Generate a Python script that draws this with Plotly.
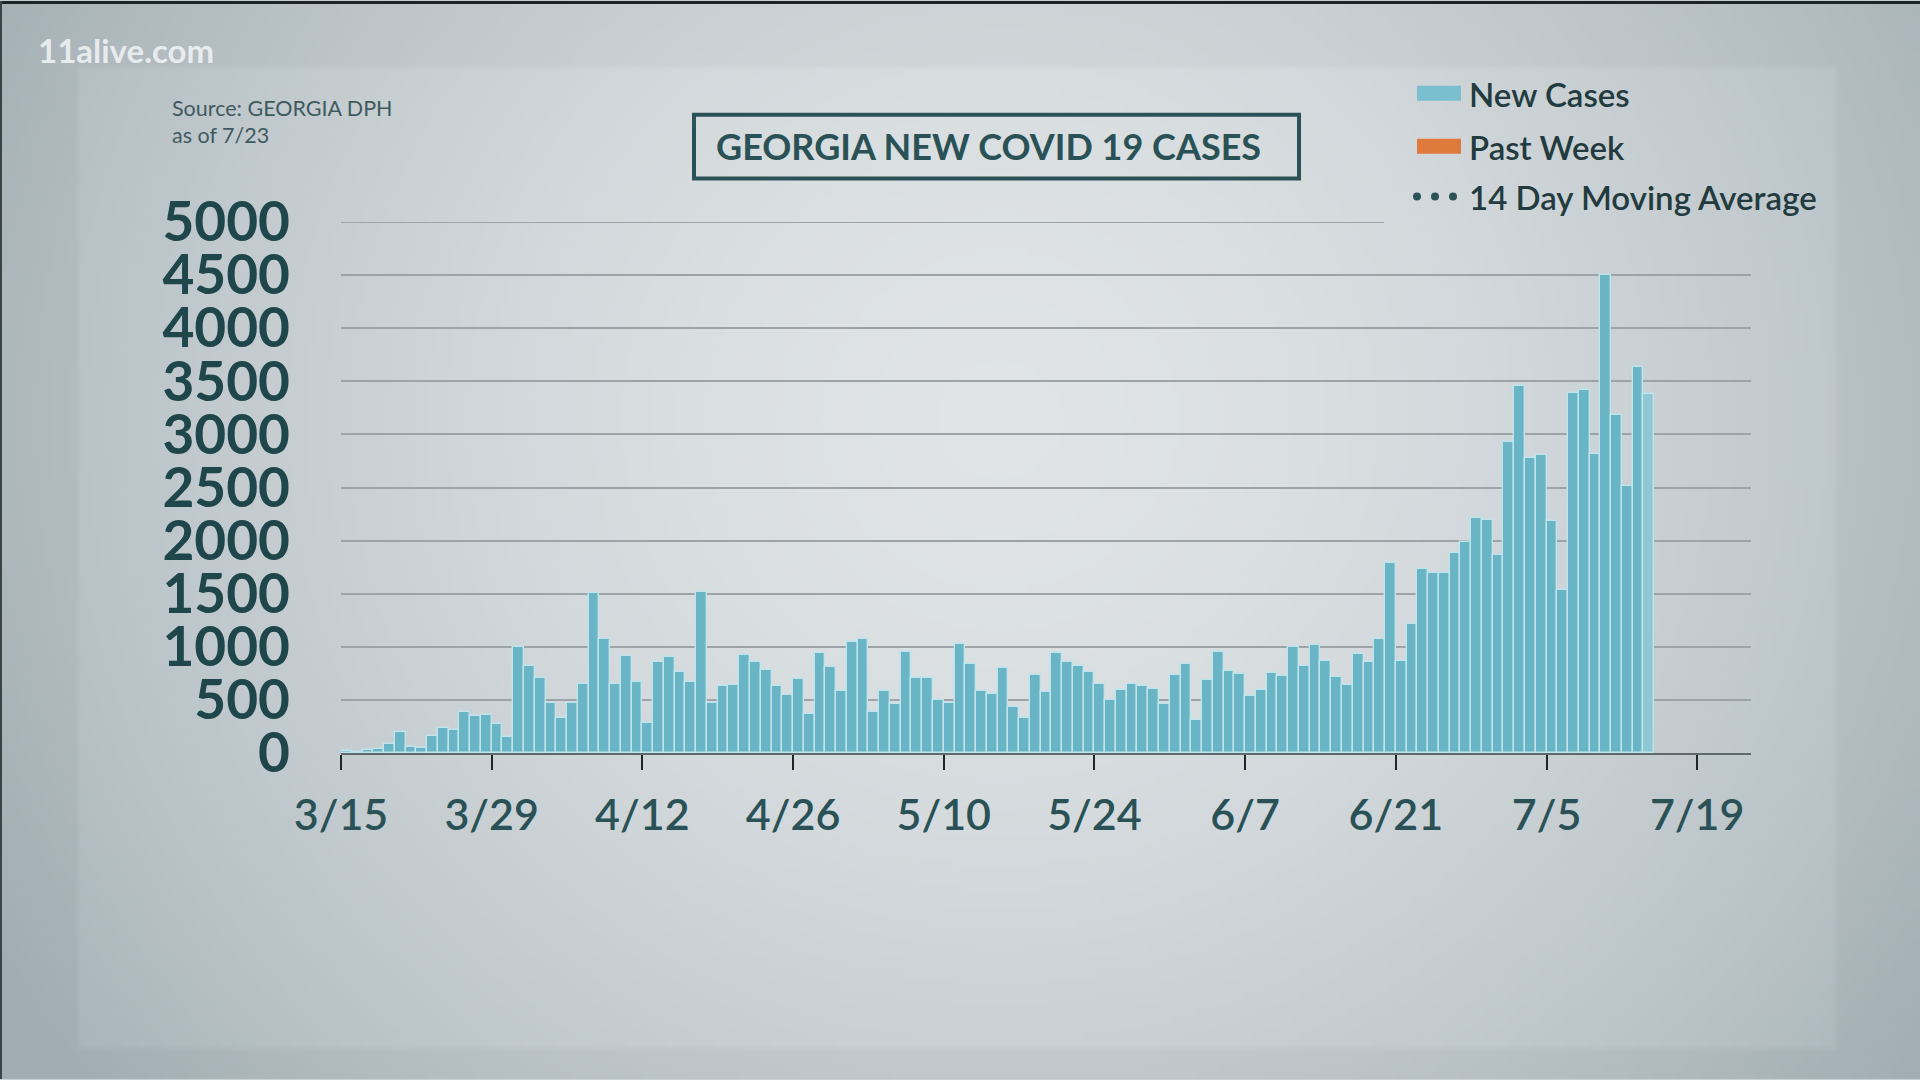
import zlib
import struct
import base64
import pandas as pd
import plotly.graph_objects as go

# ---------------- data ----------------
start_date = "2020-03-15"
new_cases = [
    22, 8, 31, 40, 85, 194, 56, 47, 157, 238, 213, 389, 351, 360,
    276, 154, 997, 821, 702, 470, 326, 470, 652, 1505, 1078, 652, 909, 665,
    285, 853, 900, 765, 671, 1520, 470, 627, 639, 922, 859, 777, 633, 542,
    699, 370, 940, 809, 580, 1047, 1072, 389, 580, 464, 953, 702, 702, 495,
    470, 1028, 840, 580, 552, 796, 433, 332, 730, 571, 940, 853, 821, 759,
    646, 498, 589, 646, 627, 602, 464, 730, 837, 307, 690, 953, 774, 743,
    533, 596, 752, 727, 997, 815, 1016, 865, 719, 644, 931, 859, 1078, 1791,
    869, 1213, 1728, 1697, 1697, 1884, 1984, 2213, 2194, 1863, 2931, 3456, 2775, 2806,
    2181, 1534, 3394, 3416, 2819, 4500, 3181, 2516, 3634, 3384,
]
tick_dates = ["2020-03-15", "2020-03-29", "2020-04-12", "2020-04-26", "2020-05-10",
              "2020-05-24", "2020-06-07", "2020-06-21", "2020-07-05", "2020-07-19"]
tick_labels = ["3/15", "3/29", "4/12", "4/26", "5/10", "5/24", "6/7", "6/21", "7/5", "7/19"]
y_ticks = list(range(0, 5001, 500))
y_max = 5000
legend_labels = ["New Cases", "Past Week", "14 Day Moving Average"]
title_text = "GEORGIA NEW COVID 19 CASES"
source_lines = ["Source: GEORGIA DPH", "as of 7/23"]
watermark = "11alive.com"

dates = pd.date_range(start_date, periods=len(new_cases), freq="D")

# ---------------- geometry helpers ----------------
W, H = 1920, 1080
ML, MR, MT, MB = 341, 169, 221.5, 326.5
PW, PH = W - ML - MR, H - MT - MB


def px_x(x):
    return (x - ML) / PW


def px_y(y):
    return (H - MB - y) / PH


# ---------------- background gradient image ----------------
def bg_rgb(x, y):
    cx, cy = 1000, 420
    dx = (x - cx) / 1150
    dy = (y - cy) / 1100
    r = (dx * dx + dy * dy) ** 0.5
    t = min(1.0, r ** 1.6)
    c0 = (224, 228, 230)
    c1 = (168, 180, 186)
    col = [c0[k] + (c1[k] - c0[k]) * t for k in range(3)]
    if not (80 <= x <= 1837 and 68 <= y <= 1050):
        col = [v - 7 for v in col]
    return tuple(int(round(max(0, min(255, v)))) for v in col)


def png_uri(w, h, scale):
    raw = bytearray()
    for j in range(h):
        raw.append(0)
        for i in range(w):
            raw += bytes(bg_rgb((i + 0.5) * scale, (j + 0.5) * scale))

    def chunk(tag, data):
        c = struct.pack(">I", len(data)) + tag + data
        return c + struct.pack(">I", zlib.crc32(tag + data) & 0xFFFFFFFF)

    png = (b"\x89PNG\r\n\x1a\n"
           + chunk(b"IHDR", struct.pack(">IIBBBBB", w, h, 8, 2, 0, 0, 0))
           + chunk(b"IDAT", zlib.compress(bytes(raw), 9))
           + chunk(b"IEND", b""))
    return "data:image/png;base64," + base64.b64encode(png).decode()


bg_src = png_uri(320, 180, 6)

# ---------------- colours / fonts ----------------
BAR = "#69b5c5"
BAR_LAST = "#8fc8d3"
DARK = "#24474b"
GRID = "#9da4a7"
FONT = "Lato"

bar_colors = [BAR] * (len(new_cases) - 1) + [BAR_LAST]

fig = go.Figure()
fig.add_trace(go.Bar(
    x=dates, y=new_cases,
    xperiod=86400000, xperiodalignment="middle",
    marker=dict(color=bar_colors, line=dict(color="#bfe4ec", width=1.4)),
    name=legend_labels[0], showlegend=False, hoverinfo="x+y",
))

fig.update_layout(
    width=W, height=H,
    margin=dict(l=ML, r=MR, t=MT, b=MB, pad=0),
    paper_bgcolor="#c9d0d3",
    plot_bgcolor="rgba(0,0,0,0)",
    bargap=0.0,
    showlegend=False,
    font=dict(family=FONT, color=DARK),
)

fig.update_xaxes(
    type="date",
    range=["2020-03-15", "2020-07-24"],
    tickvals=tick_dates, ticktext=tick_labels,
    ticks="outside", ticklen=15, tickwidth=2, tickcolor="#1d2729",
    tickfont=dict(family=FONT, size=43, color="#2a5256", weight=600),
    ticklabelstandoff=8,
    showline=True, linecolor="#5f686b", linewidth=2,
    showgrid=False, zeroline=False,
)
fig.update_yaxes(
    range=[0, y_max],
    tickvals=y_ticks, ticktext=[str(v) for v in y_ticks],
    ticks="", ticklabelstandoff=50,
    tickfont=dict(family=FONT, size=55, color="#1f464a", weight="bold"),
    showgrid=True, gridcolor=GRID, gridwidth=2,
    zeroline=False, showline=False,
)

# background image covering whole figure
fig.add_layout_image(dict(
    source=bg_src, xref="paper", yref="paper",
    x=px_x(0), y=px_y(0), sizex=W / PW, sizey=H / PH,
    xanchor="left", yanchor="top", sizing="stretch", layer="below",
))

shapes = []
# thin dark frame strips (top / left)
shapes.append(dict(type="rect", xref="paper", yref="paper",
                   x0=px_x(0), x1=px_x(W), y0=px_y(3), y1=px_y(0),
                   fillcolor="#1c2427", line=dict(width=0), layer="above"))
shapes.append(dict(type="rect", xref="paper", yref="paper",
                   x0=px_x(0), x1=px_x(2), y0=px_y(H), y1=px_y(0),
                   fillcolor="#3a4447", line=dict(width=0), layer="above"))
# top gridline (stops where the legend starts)
shapes.append(dict(type="line", xref="paper", yref="y",
                   x0=0, x1=px_x(1384), y0=y_max, y1=y_max,
                   line=dict(color=GRID, width=2), layer="above"))
# title box
shapes.append(dict(type="rect", xref="paper", yref="paper",
                   x0=px_x(694), x1=px_x(1299), y0=px_y(178), y1=px_y(114),
                   line=dict(color="#2b5357", width=4), fillcolor="rgba(0,0,0,0)", layer="above"))
# legend swatches
shapes.append(dict(type="rect", xref="paper", yref="paper",
                   x0=px_x(1417), x1=px_x(1461), y0=px_y(100), y1=px_y(85),
                   fillcolor="#79bfcf", line=dict(width=0), layer="above"))
shapes.append(dict(type="rect", xref="paper", yref="paper",
                   x0=px_x(1417), x1=px_x(1461), y0=px_y(153), y1=px_y(138),
                   fillcolor="#e07a3c", line=dict(width=0), layer="above"))
for cx in (1417, 1435, 1453):
    shapes.append(dict(type="circle", xref="paper", yref="paper",
                       x0=px_x(cx - 4), x1=px_x(cx + 4), y0=px_y(200), y1=px_y(192),
                       fillcolor="#2b5357", line=dict(width=0), layer="above"))
fig.update_layout(shapes=shapes)

ann = []
ann.append(dict(text=title_text, x=px_x(988), y=px_y(145), xref="paper", yref="paper",
                xanchor="center", yanchor="middle", showarrow=False,
                font=dict(family=FONT, size=36, color="#2a5256", weight="bold")))
ann.append(dict(text=watermark, x=px_x(36), y=px_y(49), xref="paper", yref="paper",
                xanchor="left", yanchor="middle", showarrow=False,
                font=dict(family=FONT, size=33, color="rgba(242,245,246,0.85)", weight="bold")))
for line, yy in zip(source_lines, (107, 134)):
    ann.append(dict(text=line, x=px_x(170), y=px_y(yy), xref="paper", yref="paper",
                    xanchor="left", yanchor="middle", showarrow=False,
                    font=dict(family=FONT, size=21.5, color="#3f5a5e")))
for lab, yy in zip(legend_labels, (93, 146, 196)):
    ann.append(dict(text=lab, x=px_x(1467), y=px_y(yy), xref="paper", yref="paper",
                    xanchor="left", yanchor="middle", showarrow=False,
                    font=dict(family=FONT, size=33, color="#233b3e", weight=600)))
fig.update_layout(annotations=ann)

fig.write_html(
    "out.html",
    config={"displayModeBar": False},
    post_script="document.body.style.margin='0';document.body.style.overflow='hidden';",
)
